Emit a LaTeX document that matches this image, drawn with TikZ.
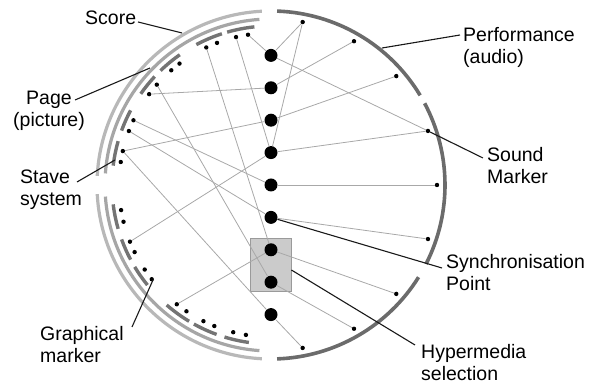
\documentclass[tikz,border=0pt]{standalone}
\usepackage{fontspec}
\setmainfont{Liberation Sans}
\definecolor{scoregray}{HTML}{B8B8B8}
\definecolor{pagegray}{HTML}{A6A6A6}
\definecolor{stavegray}{HTML}{747474}
\definecolor{audiogray}{HTML}{6B6B6B}
\definecolor{linkgray}{HTML}{A8A8A8}
\definecolor{boxfill}{HTML}{CBCBCB}
\definecolor{boxdraw}{HTML}{9A9A9A}
\begin{document}
\begin{tikzpicture}[x=1pt,y=1pt,
  scorering/.style={draw=scoregray,line width=3.2pt},
  pagering/.style={draw=pagegray,line width=3.2pt},
  stavering/.style={draw=stavegray,line width=3.4pt},
  audioring/.style={draw=audiogray,line width=3.6pt},
  gdot/.style={circle,fill=black,inner sep=0pt,minimum size=4.4pt},
  sdot/.style={circle,fill=black,inner sep=0pt,minimum size=4.4pt},
  sync/.style={circle,fill=black,inner sep=0pt,minimum size=13pt},
  link/.style={draw=linkgray,line width=0.8pt},
  leader/.style={draw=black!90,line width=1.1pt},
  lab/.style={font=\fontsize{19.5}{22}\selectfont,inner sep=0pt,align=left,anchor=base west}]
\useasboundingbox (0,0) rectangle (590,387);
\coordinate (C) at (271,202);
% selection box
\node[draw=boxdraw,fill=boxfill,line width=0.8pt,minimum width=41pt,minimum height=53pt,inner sep=0pt] (sel) at (270.5,122.5) {};
% score rings
\draw[scorering] ([shift={(93:174)}]C) arc[start angle=93,end angle=177,radius=174];
\draw[scorering] ([shift={(183:174)}]C) arc[start angle=183,end angle=267,radius=174];
\draw[pagering] ([shift={(94:166)}]C) arc[start angle=94,end angle=176,radius=166];
\draw[pagering] ([shift={(184:166)}]C) arc[start angle=184,end angle=266,radius=166];
\foreach \a/\b in {96/106,108/118,125/134,137/145,152/160,164/173,187/196,200/208,211/219,229/239,241/250,253/262}
  \draw[stavering] ([shift={(\a:159)}]C) arc[start angle=\a,end angle=\b,radius=159];
% audio ring
\draw[audioring] ([shift={(88:174)}]C) arc[start angle=88,end angle=31,radius=174];
\draw[audioring] ([shift={(28:174)}]C) arc[start angle=28,end angle=-27,radius=174];
\draw[audioring] ([shift={(-32:174)}]C) arc[start angle=-32,end angle=-88,radius=174];
% graphical markers
\foreach \n/\a in {1/98.7,2/103.3,3/110.8,4/115.2,5/127,6/131,7/138.7,8/143.3,9/154.8,10/159.2,11/167.1,12/171.3,13/189.5,14/194,15/201.9,16/206.2,17/213.8,18/218.3,19/231.7,20/236.2,21/243.6,22/248.1,23/255.6,24/260.5}
  \node[gdot] (g\n) at ([shift={(\a:152)}]C) {};
% sound markers
\foreach \n/\a in {1/79,2/60,3/41,4/19,5/0,6/-19,7/-41,8/-60,9/-79}
  \node[sdot] (t\n) at ([shift={(\a:166)}]C) {};
% sync points
\foreach \n in {1,...,9}
  \node[sync] (s\n) at (271,{202+(5-\n)*32.4}) {};
% links
\draw[link] (g1) -- (s1);
\draw[link] (t1) -- (s1);
\draw[link] (s1) -- (t4);
\draw[link] (g8) -- (s2);
\draw[link] (s2) -- (t2);
\draw[link] (g11) -- (s3);
\draw[link] (s3) -- (t3);
\draw[link] (g2) -- (s4);
\draw[link] (g15) -- (s4);
\draw[link] (t1) -- (s4);
\draw[link] (s4) -- (t4);
\draw[link] (g9) -- (s5);
\draw[link] (s5) -- (t5);
\draw[link] (g10) -- (s6);
\draw[link] (s6) -- (t6);
\draw[link] (g4) -- (s7);
\draw[link] (g19) -- (s7);
\draw[link] (s7) -- (t7);
\draw[link] (g7) -- (s8);
\draw[link] (s8) -- (t8);
\draw[link] (g11) -- (s9);
\draw[link] (s9) -- (t9);
% labels
\node[lab] (score) at (85,362) {Score};
\node[lab,align=center,anchor=base] (page) at (49,260) {Page\\(picture)};
\node[lab] (stave) at (20,181) {Stave\\system};
\node[lab] (graph) at (40,24) {Graphical\\marker};
\node[lab] (perf) at (463,323) {Performance\\(audio)};
\node[lab] (sound) at (487,203) {Sound\\Marker};
\node[lab] (synch) at (446,96) {Synchronisation\\Point};
\node[lab] (hyper) at (421,6) {Hypermedia\\selection};
% leaders
\coordinate (scoreend) at (182,354);
\coordinate (pageend) at (150,319);
\coordinate (staveend) at (115,227);
\coordinate (graphend) at (153,107);
\coordinate (perfend) at (382,339);
\draw[leader] (138,365) -- (scoreend);
\draw[leader] (75,287) -- (pageend);
\draw[leader] (77,205) -- (staveend);
\draw[leader] (132,60) -- (graphend);
\draw[leader] (460,352) -- (perfend);
\draw[leader] (t4) -- (483,229);
\draw[leader] (s6) -- (442,119);
\draw[leader] (sel.east |- 0,117) -- (415,42);
\end{tikzpicture}
\end{document}
